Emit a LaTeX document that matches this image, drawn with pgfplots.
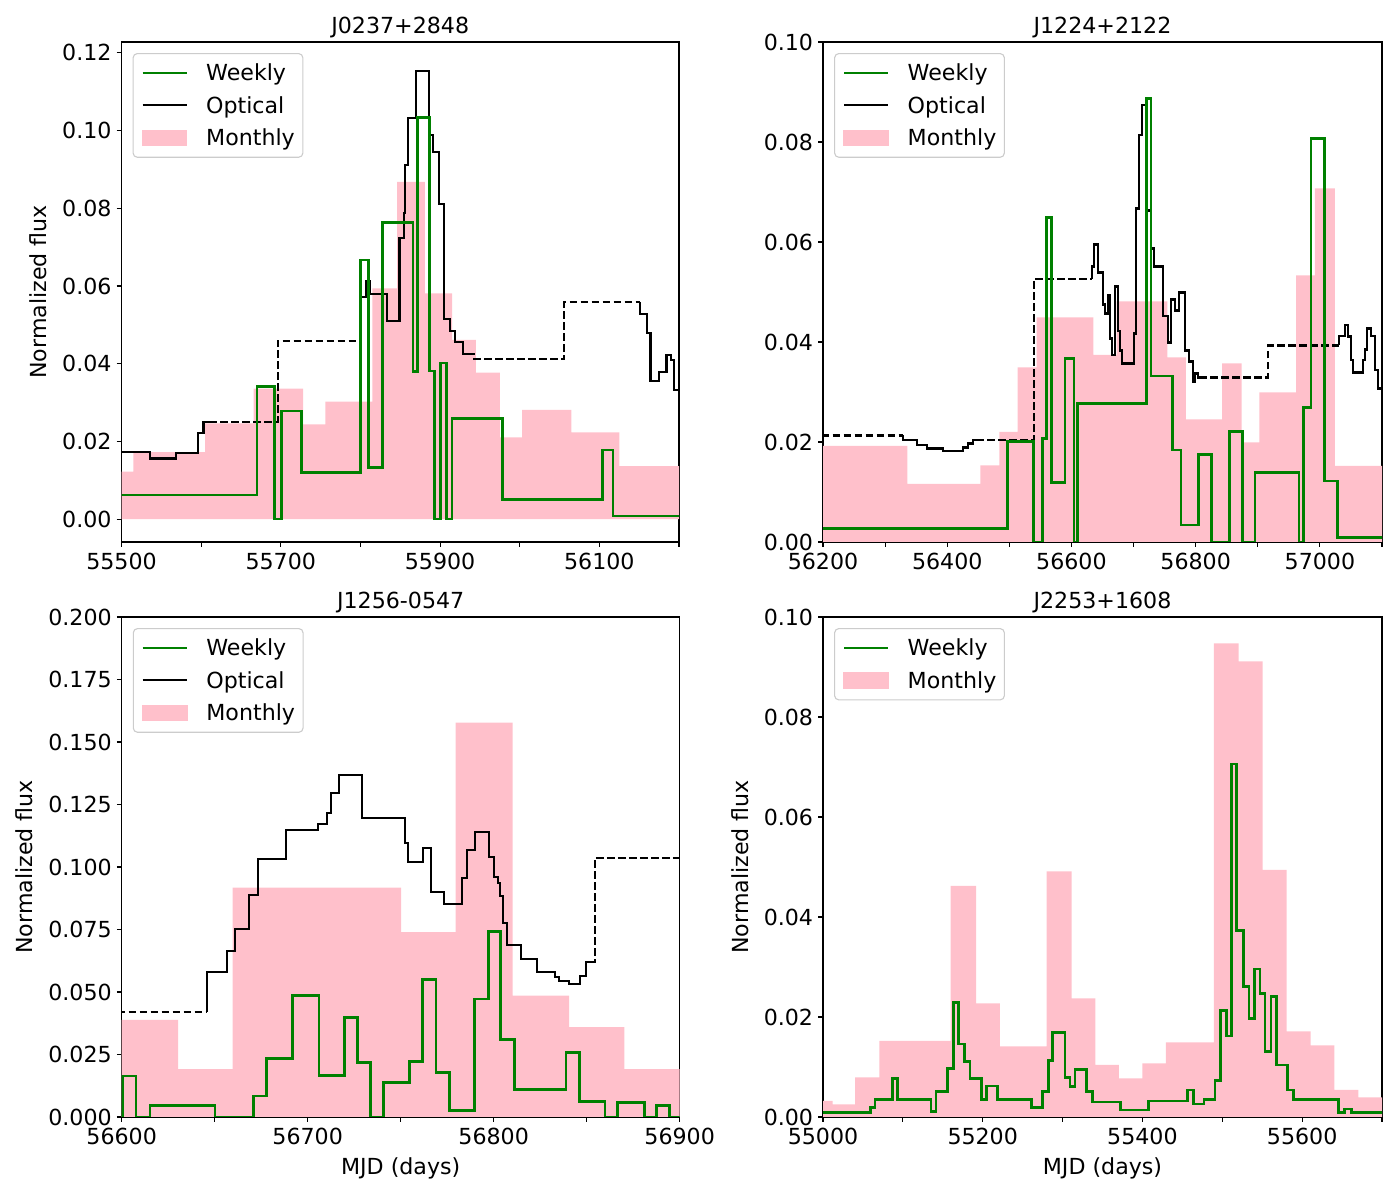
\documentclass[border=0pt]{standalone}
\usepackage{pgfplots}
\pgfplotsset{compat=1.18}
\usepackage{fontspec}
\setmainfont{DejaVu Sans}
\definecolor{mgreen}{HTML}{008000}
\definecolor{mpink}{HTML}{FFC0CB}
\definecolor{legedge}{rgb}{0.8,0.8,0.8}

\pgfplotsset{
  base/.style={
    scale only axis, height=5in,
    axis line style={line width=0.8pt, black},
    tick align=outside, tick pos=left,
    major tick length=3.5pt, minor tick length=3.5pt,
    every tick/.style={black, line width=0.8pt},
    /pgf/number format/assume math mode=true,
    /pgf/number format/1000 sep={},
    scaled x ticks=false, scaled y ticks=false,
    xticklabel style={inner sep=0pt, anchor=north, yshift=-4pt},
    yticklabel style={inner sep=0pt, anchor=east, xshift=-3.5pt},
    every axis title/.style={at={(0.5,1)}, anchor=base, yshift=6pt, inner sep=0pt},
    every axis x label/.style={at={(axis description cs:0.5,-0.114)}, anchor=base, inner sep=0pt},
    legend cell align=left,
    legend style={at={(0,1)}, anchor=north west, xshift=8pt, yshift=-8pt,
      draw=legedge, line width=0.8pt, rounded corners=3pt, fill=white,
      inner xsep=5.8pt, inner ysep=2.35pt, row sep=0pt,
      /tikz/every odd column/.append style={column sep=13pt},
      nodes={inner sep=0pt, text height=17.2pt, text depth=6.2pt}},
  },
  wk/.style={const plot, mgreen, line width=2pt, forget plot},
  op/.style={const plot, black, line width=1.5pt, forget plot},
  opd/.style={const plot, black, line width=1.5pt, dash pattern=on 5.55pt off 2.4pt, forget plot},
  mo/.style={const plot, fill=mpink, draw=none, forget plot},
}
\newcommand{\legWeekly}{\addlegendimage{legend image code/.code={\draw[mgreen, line width=2pt, sharp corners, solid] (0pt,0pt) -- (32pt,0pt);}}\addlegendentry{Weekly}}
\newcommand{\legOptical}{\addlegendimage{legend image code/.code={\draw[black, line width=1.5pt, sharp corners, solid] (0pt,0pt) -- (32pt,0pt);}}\addlegendentry{Optical}}
\newcommand{\legMonthly}{\addlegendimage{legend image code/.code={\fill[mpink, sharp corners] (0pt,-5.6pt) rectangle (32pt,5.6pt);}}\addlegendentry{Monthly}}

\begin{document}
\begin{tikzpicture}[font=\fontsize{16}{19.2}\selectfont]
\path[use as bounding box] (0,0) rectangle (14in,12in);

% ---------------- Panel 1 ----------------
\begin{axis}[base, at={(1.215in,6.58in)}, anchor=south west, width=5.575in,
  xmin=55500, xmax=56200, ymin=-0.0059, ymax=0.1228,
  xtick={55500,55700,55900,56100}, minor xtick={55600,55800,56000,56200},
  ytick={0,0.02,0.04,0.06,0.08,0.10,0.12},
  yticklabel style={/pgf/number format/.cd, fixed, fixed zerofill, precision=2},
  title={J0237+2848}, ylabel={Normalized flux},
  every axis y label/.style={at={(axis description cs:-0.1327,0.5)}, rotate=90, anchor=south, inner sep=0pt}]
\legWeekly \legOptical \legMonthly
\addplot[mo] coordinates {(55470,0.0122)(55515,0.0172)(55605,0.0246)(55666,0.0336)(55728,0.0244)(55756,0.0302)(55815,0.0594)(55846,0.0868)(55881,0.0581)(55915,0.0461)(55945,0.0377)(55975,0.0210)(56003,0.0281)(56065,0.0223)(56125,0.0136)(56230,0.0136)} \closedcycle;
\addplot[op] coordinates {(55470,0.0172)(55536,0.0156)(55568.5,0.0169)(55596.5,0.0221)(55603,0.0251)(55610,0.0251)};
\addplot[opd] coordinates {(55610,0.0251)(55696,0.0458)(55800.6,0.0458)};
\addplot[op] coordinates {(55800.6,0.0458)(55800.6,0.0572)(55806.9,0.0613)(55812.3,0.0579)(55833.3,0.0510)(55849.1,0.0724)(55854.2,0.0787)(55856.3,0.0911)(55859.7,0.1033)(55869.7,0.1154)(55886.5,0.0988)(55890.6,0.0945)(55898.1,0.0810)(55904.4,0.0515)(55912,0.0485)(55919.1,0.0456)(55928.3,0.0424)(55934,0.0424)};
\addplot[opd] coordinates {(55934,0.0424)(55943,0.0411)(56056.1,0.0559)(56151.6,0.0559)};
\addplot[op] coordinates {(56151.6,0.0559)(56151.6,0.0529)(56160,0.0478)(56164.2,0.0356)(56174.6,0.0379)(56184.3,0.0422)(56190.2,0.0409)(56193.5,0.0332)(56201,0.022)(56230,0.022)};
\addplot[wk] coordinates {(55470,0.0062)(55670,0.0341)(55692,0)(55701,0.0278)(55726,0.0120)(55800,0.0667)(55810,0.0132)(55828,0.0763)(55866,0.0379)(55872,0.1033)(55887,0.0381)(55893,0)(55901,0.0402)(55908,0)(55915,0.0259)(55978,0.0051)(56104,0.0178)(56117,0.0008)(56230,0.0008)};
\end{axis}

% ---------------- Panel 2 ----------------
\begin{axis}[base, at={(8.23in,6.58in)}, anchor=south west, width=5.59in,
  xmin=56200, xmax=57100, ymin=0, ymax=0.10,
  xtick={56200,56400,56600,56800,57000}, minor xtick={56300,56500,56700,56900,57100},
  ytick={0,0.02,0.04,0.06,0.08,0.10},
  yticklabel style={/pgf/number format/.cd, fixed, fixed zerofill, precision=2},
  title={J1224+2122}]
\legWeekly \legOptical \legMonthly
\addplot[mo] coordinates {(56180,0.0192)(56335.8,0.0116)(56453.3,0.0153)(56483.9,0.0220)(56513.4,0.0349)(56544,0.0449)(56635.2,0.0374)(56672.8,0.0481)(56754.3,0.0369)(56784.4,0.0245)(56842.4,0.0357)(56874.1,0.0199)(56902.5,0.0299)(56961.6,0.0533)(56992.1,0.0707)(57024.3,0.0152)(57120,0.0152)} \closedcycle;
\addplot[opd] coordinates {(56180,0.0213)(56328.3,0.0213)};
\addplot[op] coordinates {(56328.3,0.0213)(56328.3,0.0204)(56351.9,0.0194)(56368,0.0187)(56392.7,0.0182)(56426,0.0189)(56433,0.0197)(56441,0.0204)(56447,0.0204)};
\addplot[opd] coordinates {(56447,0.0204)(56539.7,0.0526)(56632.6,0.0526)};
\addplot[op] coordinates {(56632.6,0.0526)(56632.6,0.0551)(56636.3,0.0595)(56643.3,0.0539)(56650.3,0.0475)(56654,0.0457)(56658.3,0.0494)(56662.1,0.0407)(56664.8,0.0374)(56670.1,0.0511)(56675.5,0.0422)(56678.2,0.0383)(56680.9,0.0357)(56701.3,0.0417)(56704,0.0667)(56709.3,0.0814)(56713.1,0.0874)(56721.1,0.0663)(56727.6,0.0587)(56733.5,0.0551)(56748,0.0452)(56756,0.0399)(56760.3,0.0485)(56766.7,0.0463)(56773.2,0.0499)(56782.8,0.0383)(56789.8,0.0361)(56795.2,0.0321)(56798.9,0.0337)(56803.2,0.0329)(56806,0.0329)};
\addplot[opd] coordinates {(56806,0.0329)(56917,0.0393)(57031.3,0.0393)};
\addplot[op] coordinates {(57031.3,0.0393)(57031.3,0.0412)(57040.5,0.0434)(57045.8,0.0411)(57049.6,0.0364)(57053.9,0.0339)(57070,0.0364)(57072.7,0.0385)(57075.4,0.0427)(57081.8,0.0412)(57088.8,0.0344)(57094.1,0.0307)(57120,0.0307)};
\addplot[wk] coordinates {(56180,0.0027)(56497.3,0.0201)(56539.2,0)(56553.7,0.0207)(56560.2,0.0649)(56568.2,0.0119)(56589.6,0.0367)(56604.1,0)(56609.4,0.0277)(56721.2,0.0887)(56728.1,0.0332)(56762.4,0.0184)(56776.4,0.0034)(56804.3,0.0175)(56825.8,0)(56854.1,0.0221)(56875.1,0)(56895.5,0.0139)(56966.4,0)(56973.3,0.0269)(56985.7,0.0807)(57007.1,0.0122)(57028,0.0009)(57120,0.0009)};
\end{axis}

% ---------------- Panel 3 ----------------
\begin{axis}[base, at={(1.217in,0.83in)}, anchor=south west, width=5.58in,
  xmin=56600, xmax=56900, ymin=0, ymax=0.2,
  xtick={56600,56700,56800,56900}, minor xtick={56650,56750,56850},
  ytick={0,0.025,0.05,0.075,0.1,0.125,0.15,0.175,0.2},
  yticklabel style={/pgf/number format/.cd, fixed, fixed zerofill, precision=3},
  title={J1256-0547}, ylabel={Normalized flux}, xlabel={MJD (days)},
  every axis y label/.style={at={(axis description cs:-0.158,0.5)}, rotate=90, anchor=south, inner sep=0pt}]
\legWeekly \legOptical \legMonthly
\addplot[mo] coordinates {(56580,0.0388)(56630.4,0.0191)(56659.7,0.0917)(56750.2,0.0739)(56779.5,0.1577)(56810.2,0.0485)(56840.5,0.0359)(56870.2,0.0191)(56920,0.0191)} \closedcycle;
\addplot[opd] coordinates {(56580,0.0419)(56646,0.0419)};
\addplot[op] coordinates {(56646,0.0419)(56646,0.0581)(56656.8,0.0665)(56660.9,0.0751)(56668.6,0.0888)(56673.5,0.1031)(56688.3,0.1148)(56705.7,0.1171)(56710.6,0.1215)(56712.4,0.1297)(56717,0.1368)(56729,0.1195)(56752.3,0.1095)(56754.1,0.1021)(56761.8,0.1075)(56766.3,0.0901)(56773.5,0.0852)(56782.8,0.0957)(56785.5,0.1068)(56789.9,0.1139)(56797.5,0.1039)(56800.3,0.0961)(56802.1,0.0935)(56803.4,0.0885)(56804.8,0.0775)(56807.3,0.0688)(56814.5,0.0631)(56823.1,0.0579)(56832.9,0.0561)(56835.1,0.0544)(56840.6,0.0532)(56846.4,0.0563)(56849.4,0.0619)(56852,0.0619)};
\addplot[opd] coordinates {(56852,0.0619)(56854.5,0.1037)(56920,0.1037)};
\addplot[wk] coordinates {(56580,0)(56600.5,0.0164)(56607.7,0)(56615.2,0.0045)(56650.2,0)(56670.8,0.0084)(56677.9,0.0235)(56691.9,0.0485)(56706.1,0.0165)(56719.7,0.0399)(56726.7,0.0217)(56733.9,0)(56740.7,0.0137)(56754.6,0.0221)(56761.8,0.0551)(56769,0.0177)(56776.1,0.0025)(56789.6,0.0472)(56797.1,0.0741)(56803.7,0.0311)(56811.1,0.0111)(56838.9,0.0257)(56846,0.0061)(56859.8,0)(56866.6,0.0059)(56881,0)(56887.6,0.0045)(56894.4,0)(56920,0)};
\end{axis}

% ---------------- Panel 4 ----------------
\begin{axis}[base, at={(8.23in,0.83in)}, anchor=south west, width=5.59in,
  xmin=55000, xmax=55700, ymin=0, ymax=0.10,
  xtick={55000,55200,55400,55600}, minor xtick={55100,55300,55500,55700},
  ytick={0,0.02,0.04,0.06,0.08,0.10},
  yticklabel style={/pgf/number format/.cd, fixed, fixed zerofill, precision=2},
  title={J2253+1608}, ylabel={Normalized flux}, xlabel={MJD (days)},
  every axis y label/.style={at={(axis description cs:-0.1324,0.5)}, rotate=90, anchor=south, inner sep=0pt}]
\legWeekly \legMonthly
\addplot[mo] coordinates {(54980,0.0032)(55012.1,0.0025)(55040.1,0.0079)(55070.5,0.0152)(55159.9,0.0462)(55191.6,0.0227)(55221.6,0.0141)(55280.1,0.0491)(55311.4,0.0237)(55341,0.0104)(55370.6,0.0077)(55399.9,0.0107)(55429.5,0.0149)(55489.6,0.0947)(55520.5,0.0911)(55550.5,0.0494)(55580.6,0.0171)(55610.7,0.0143)(55640.3,0.0054)(55670.3,0.0039)(55720,0.0039)} \closedcycle;
\addplot[wk] coordinates {(54980,0.0009)(55059.7,0.0019)(55065.1,0.0035)(55087.2,0.0077)(55093.1,0.0035)(55135.2,0.0011)(55141.5,0.0051)(55156.1,0.0097)(55163.2,0.0229)(55169.5,0.0146)(55177,0.0111)(55184.1,0.0077)(55198.7,0.0035)(55204.9,0.0062)(55218.7,0.0035)(55261.3,0.0019)(55274.7,0.0051)(55282.2,0.0113)(55287.6,0.0169)(55303,0.0079)(55309.3,0.0061)(55315.6,0.0095)(55330.2,0.0051)(55337.7,0.003)(55372.7,0.0014)(55407.4,0.0032)(55456.2,0.0054)(55463.7,0.0026)(55477.1,0.0035)(55490.9,0.0073)(55498,0.0213)(55505.5,0.0162)(55511.7,0.0706)(55518,0.0373)(55526.3,0.0261)(55533.4,0.0197)(55540.1,0.0296)(55547.2,0.0247)(55553.5,0.0131)(55561,0.0241)(55568.1,0.0104)(55581.9,0.0054)(55589,0.0035)(55645.3,0.0009)(55652.8,0.0016)(55662,0.0009)(55720,0.0009)};
\end{axis}
\end{tikzpicture}
\end{document}
